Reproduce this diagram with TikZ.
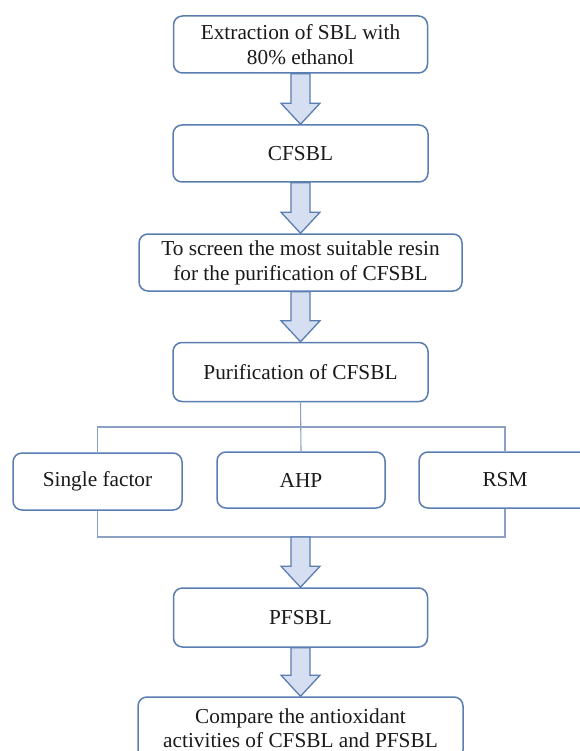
\documentclass[tikz,border=0pt]{standalone}
\usepackage{fontspec}
\setmainfont{Liberation Serif}
\usetikzlibrary{calc}
\definecolor{boxblue}{HTML}{5A7DB2}
\definecolor{linegray}{HTML}{8CA0C2}
\definecolor{arrowfill}{HTML}{D5DFF1}
\definecolor{txt}{HTML}{1A1A1A}
\tikzset{
  stagebox/.style={draw=boxblue, line width=1.5pt, rounded corners=9pt, fill=white,
    text=txt, align=center, font=\fontsize{21.3}{25}\selectfont, inner sep=0pt},
  busline/.style={draw=linegray, line width=1.1pt},
  blockarrow/.style={draw=boxblue, fill=arrowfill, line width=1.3pt, line join=miter}
}
\newcommand{\flowarrow}[2]{%
  \path[blockarrow] let \p1=(#1), \p2=(#2) in
    (\x2-9.5pt,\y1) -- (\x2+9.5pt,\y1) -- (\x2+9.5pt,\y2+21pt) -- (\x2+19.5pt,\y2+21pt)
    -- (\x2,\y2) -- (\x2-19.5pt,\y2+21pt) -- (\x2-9.5pt,\y2+21pt) -- cycle;}
\begin{document}
\begin{tikzpicture}[x=1pt,y=-1pt]
\useasboundingbox (0,0) rectangle (579,751);
\fill[white] (0,0) rectangle (579,751);
\node[stagebox, minimum width=254pt, minimum height=57pt] (b1) at (300.5,44.5) {Extraction of SBL with\\80\% ethanol};
\node[stagebox, minimum width=255pt, minimum height=57pt] (b2) at (300.5,153.5) {CFSBL};
\node[stagebox, minimum width=323pt, minimum height=57pt] (b3) at (300.5,262.5) {To screen the most suitable resin\\for the purification of CFSBL};
\node[stagebox, minimum width=255pt, minimum height=59pt] (b4) at (300.5,372) {Purification of CFSBL};
\node[stagebox, minimum width=169pt, minimum height=57pt] (s1) at (97.5,481.5) {Single factor};
\node[stagebox, minimum width=168pt, minimum height=56pt] (s2) at (301,480) {AHP};
\node[stagebox, minimum width=172pt, minimum height=56pt] (s3) at (505,480) {RSM};
\node[stagebox, minimum width=254pt, minimum height=59pt] (b5) at (300.5,617.5) {PFSBL};
\node[stagebox, minimum width=325pt, minimum height=62pt, font=\fontsize{21.3}{24}\selectfont] (b6) at (300.5,728) {Compare the antioxidant\\activities of CFSBL and PFSBL};
\coordinate (ub) at (301,427);
\coordinate (lb) at (301,537);
\draw[busline] (s1.north) |- (ub) -| (s3.north);
\draw[busline] (b4.south) -- (s2.north);
\draw[busline] (s1.south) |- (lb) -| (s3.south);
\flowarrow{b1.south}{b2.north}
\flowarrow{b2.south}{b3.north}
\flowarrow{b3.south}{b4.north}
\flowarrow{lb}{b5.north}
\flowarrow{b5.south}{b6.north}
\end{tikzpicture}
\end{document}
